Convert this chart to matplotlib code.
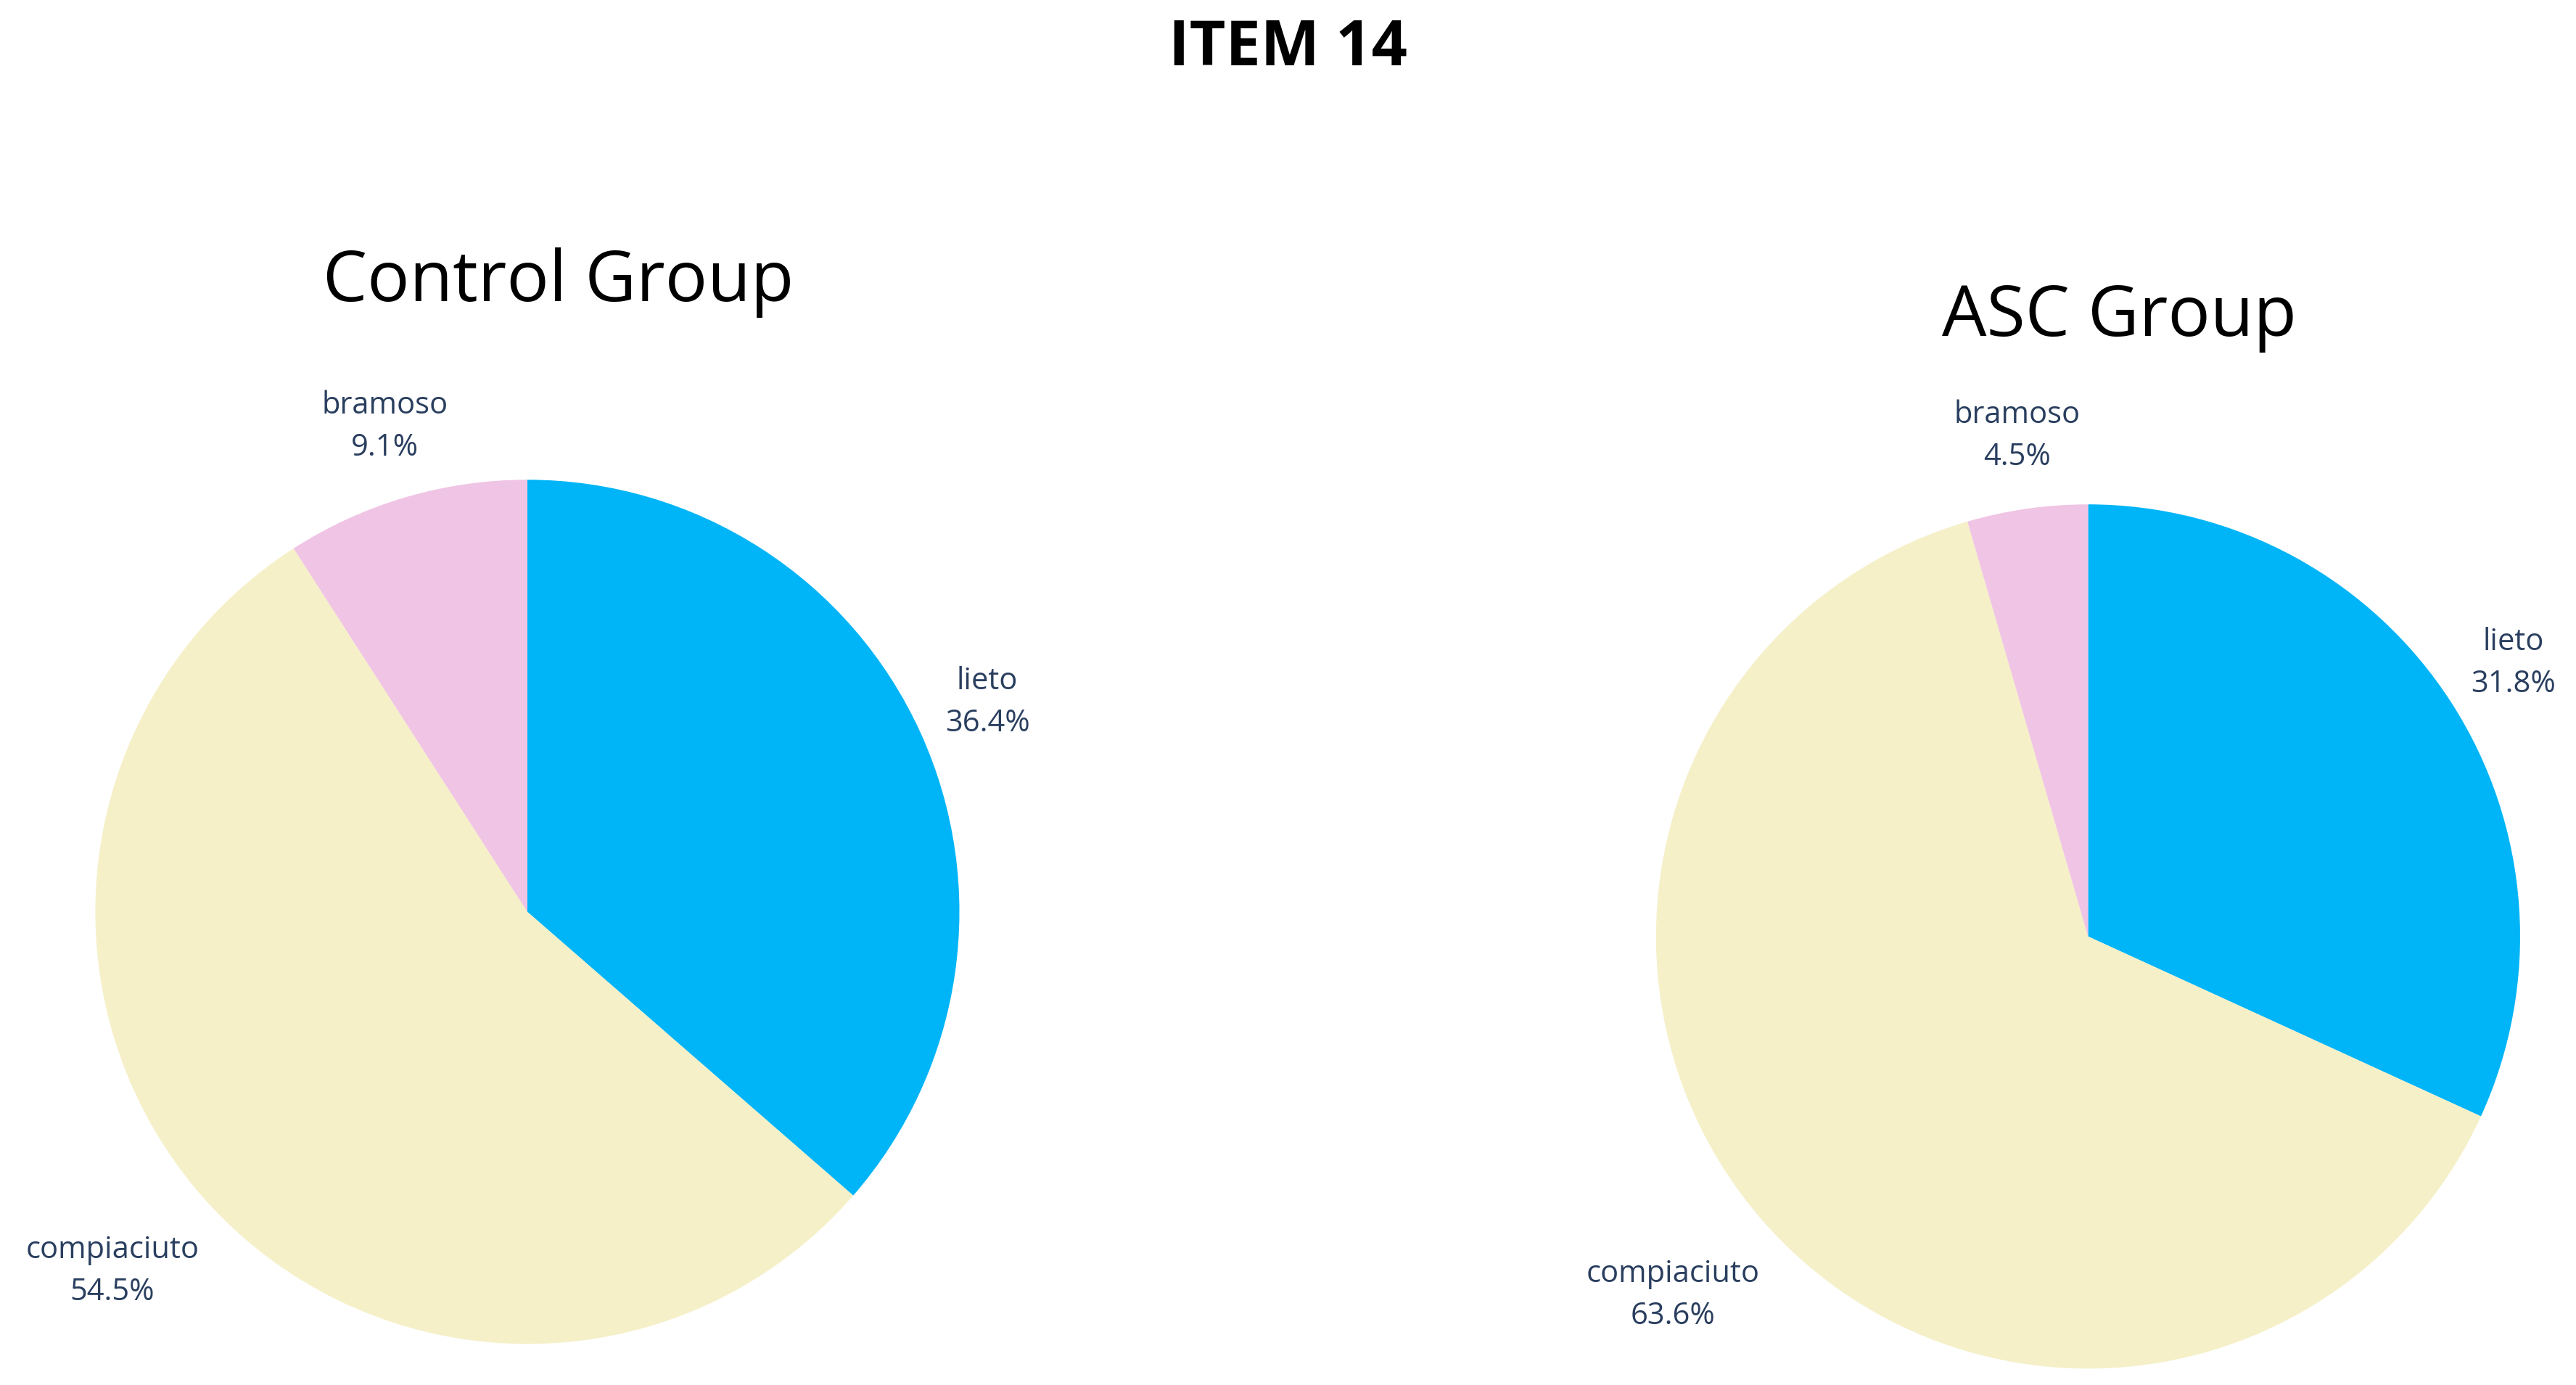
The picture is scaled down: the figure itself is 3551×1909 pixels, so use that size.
import numpy as np
import matplotlib.pyplot as plt

plt.rcParams['font.family'] = ['Open Sans', 'DejaVu Sans']

categories = ["lieto", "compiaciuto", "bramoso"]
control_values = [36.4, 54.5, 9.1]
asc_values = [31.8, 63.6, 4.5]
colors = ["#00B5F7", "#F5F0C8", "#F0C4E4"]

W, H = 1568.0, 843.0  # reference layout units


def draw_pie(fig, cx, cy, r, values, title, title_y):
    ax = fig.add_axes([(cx - r) / W, 1 - (cy + r) / H, 2 * r / W, 2 * r / H])
    ax.pie(values, colors=colors, startangle=90, counterclock=False,
           wedgeprops=dict(linewidth=0))
    ax.set_xlim(-1, 1)
    ax.set_ylim(-1, 1)
    ax.set_aspect("equal")
    ax.axis("off")
    total = sum(values)
    start = 90.0
    for name, v in zip(categories, values):
        mid = np.deg2rad(start - v / total * 360 / 2)
        start -= v / total * 360
        d = 1.27 if name == "compiaciuto" else 1.17
        ax.text(d * np.cos(mid), d * np.sin(mid), f"{name}\n{v:.1f}%",
                ha="center", va="center", fontsize=30, color="#2a3f5f",
                linespacing=1.5, clip_on=False)
    fig.text(cx / W + 0.012, 1 - title_y / H, title, ha="center", va="center",
             fontsize=70, color="black")


fig = plt.figure(figsize=(35.51, 19.09), dpi=100)
fig.text(0.5, 1 - 30 / H, "ITEM 14", ha="center", va="center",
         fontsize=62, fontweight="bold")
draw_pie(fig, 321, 555, 263, control_values, "Control Group", 172)
draw_pie(fig, 1271, 570, 263, asc_values, "ASC Group", 193)
fig.savefig("out.png", dpi=100)
